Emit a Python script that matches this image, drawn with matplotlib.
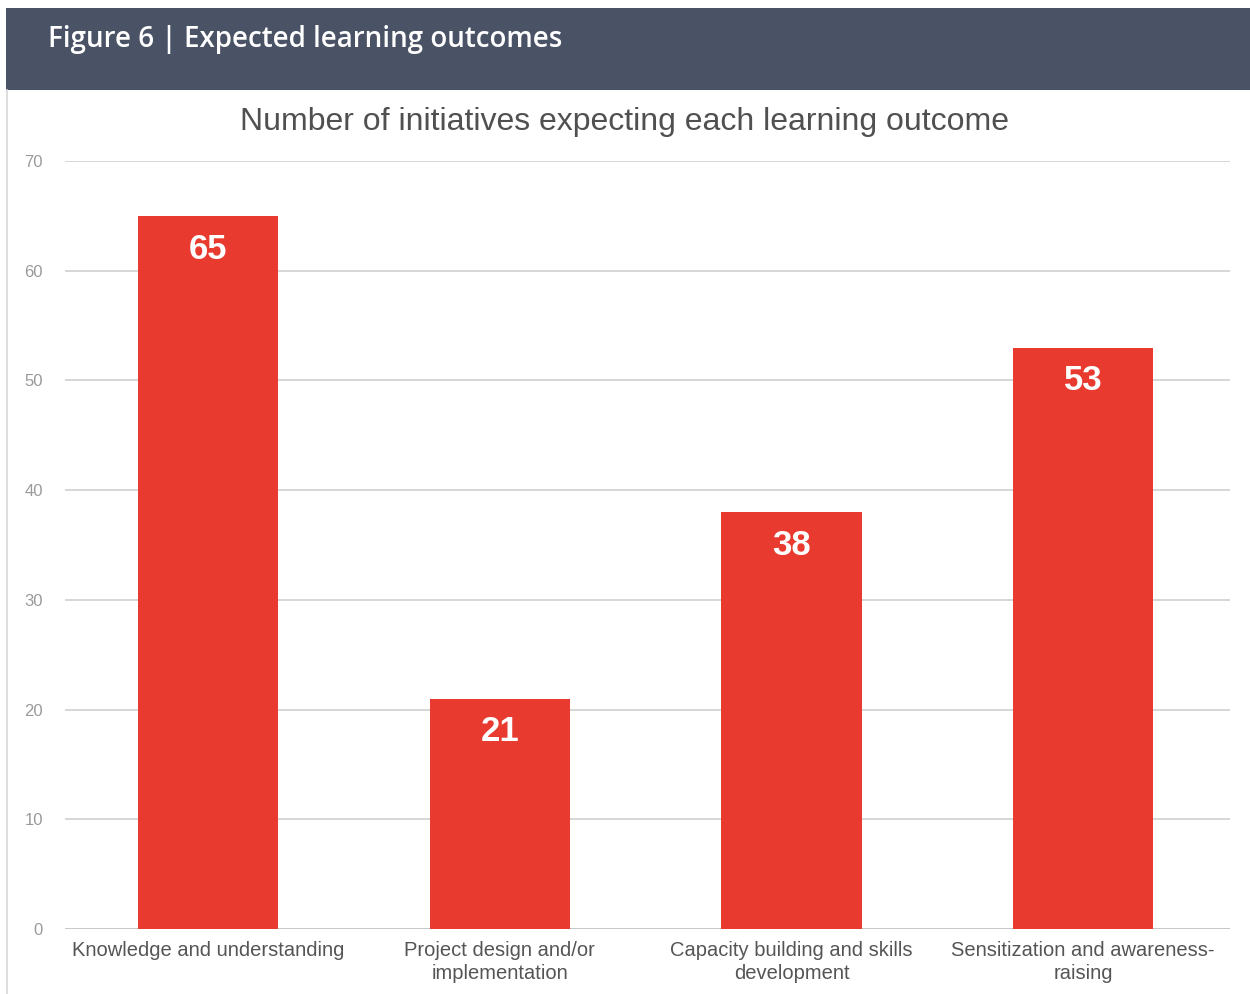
import numpy as np
import matplotlib.pyplot as plt
from matplotlib.patches import Rectangle
from matplotlib.lines import Line2D

categories = ["Knowledge and understanding",
              "Project design and/or\nimplementation",
              "Capacity building and skills\ndevelopment",
              "Sensitization and awareness-\nraising"]
counts = [65, 21, 38, 53]
yticks = [0, 10, 20, 30, 40, 50, 60, 70]

header = "Figure 6 | Expected learning outcomes"
title = "Number of initiatives expecting each learning outcome"

bar_color = '#e83a2e'
band_color = '#4a5366'

fig = plt.figure(figsize=(12.5, 9.94), dpi=100)
fig.patch.set_facecolor('white')

# header band
fig.patches.append(Rectangle((6/1250, 1-90/994), 1-6/1250, 82/994, transform=fig.transFigure,
                             facecolor=band_color, edgecolor='none', zorder=0))
fig.text(48/1250, 1-39/994, header, color='white', fontsize=20, fontfamily='Open Sans',
         fontweight='semibold', va='center', ha='left')
# thin frame line on the left of chart area
fig.lines.append(Line2D([7/1250, 7/1250], [0, 1-90/994], transform=fig.transFigure,
                        color='#d8d8d8', lw=1.2))

fig.text(0.5, 1-122/994, title, color='#505050', fontsize=23, fontfamily='Liberation Sans',
         ha='center', va='center')

ax = fig.add_axes([65/1250, 1-929/994, (1230-65)/1250, (929-161)/994])
x = np.arange(len(categories))
ax.bar(x, counts, width=0.48, color=bar_color, zorder=3)
for xi, v in zip(x, counts):
    ax.annotate(str(v), (xi, v), xytext=(0, -24), textcoords='offset points',
                ha='center', va='center', color='white', fontsize=25,
                fontweight='bold', fontfamily='Liberation Sans', zorder=4)

ax.set_xlim(-0.49, 3.503)
ax.set_ylim(0, 70)
ax.set_yticks(yticks)
ax.set_yticklabels([str(t) for t in yticks], fontsize=12, color='#9a9a9a',
                   fontfamily='Liberation Sans')
ax.set_xticks(x)
ax.set_xticklabels(categories, fontsize=14.5, color='#555555', fontfamily='Liberation Sans',
                   linespacing=1.25)
ax.tick_params(axis='both', length=0)
ax.tick_params(axis='y', pad=16)
ax.tick_params(axis='x', pad=9)
ax.grid(axis='y', color='#d0d0d0', lw=1.2, zorder=0)
for s in ax.spines.values():
    s.set_visible(False)
ax.axhline(0, color='#c4c4c4', lw=1.2, zorder=2)

fig.savefig('out.png', dpi=100, facecolor='white')
